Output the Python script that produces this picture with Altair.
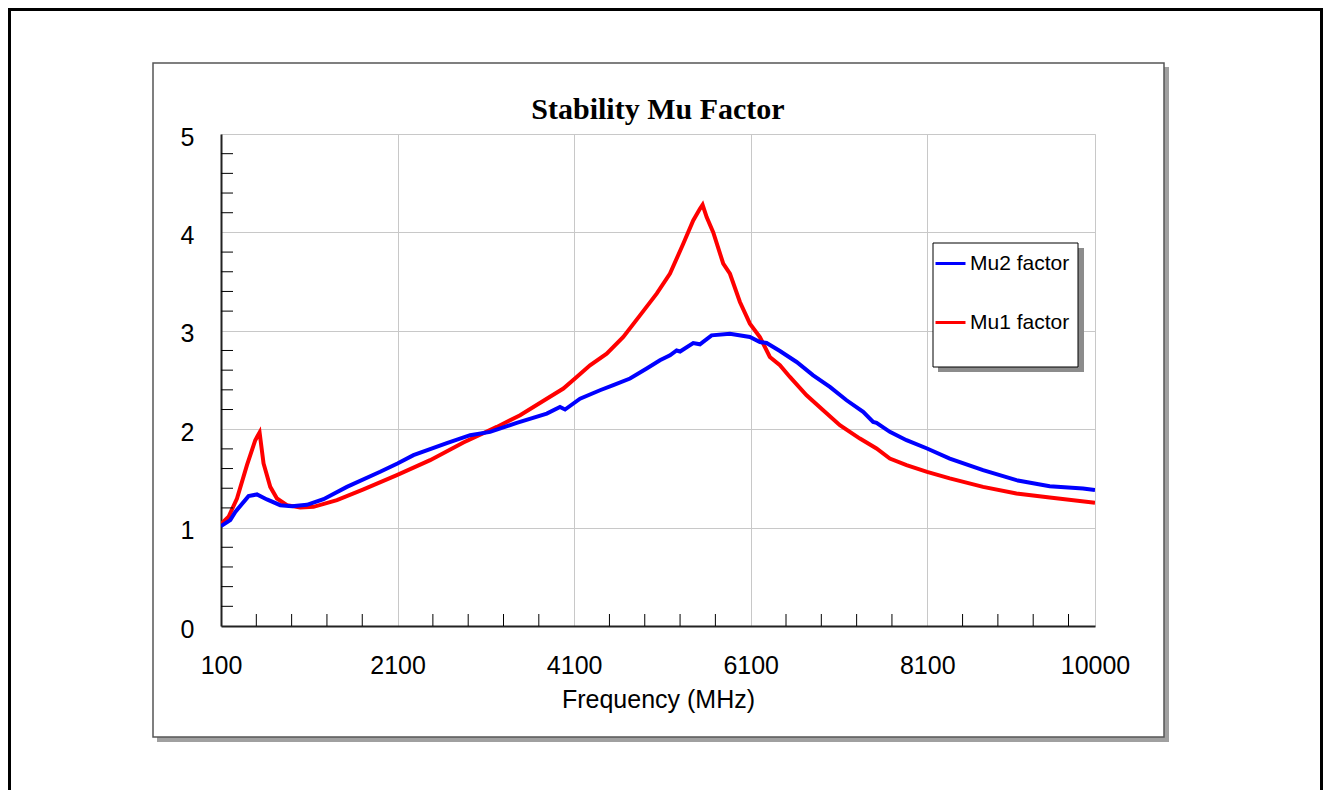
import altair as alt
import pandas as pd

# ---- data ----
mu2_freq = [100, 205, 262, 412, 507, 620, 771, 904, 1073, 1261, 1526, 1903, 2099, 2280,
            2658, 2922, 3148, 3450, 3790, 3940, 3997, 4167, 4393, 4544, 4733, 4922, 5072,
            5186, 5261, 5300, 5449, 5525, 5657, 5865, 6091, 6204, 6280, 6431, 6620, 6808,
            6997, 7186, 7374, 7487, 7525, 7676, 7865, 8098, 8355, 8732, 9110, 9487, 9864, 10000]
mu2_val = [1.015, 1.076, 1.16, 1.32, 1.337, 1.286, 1.228, 1.218, 1.232, 1.289, 1.414, 1.567, 1.652, 1.736,
           1.858, 1.939, 1.973, 2.064, 2.159, 2.226, 2.2, 2.31, 2.396, 2.447, 2.515, 2.616, 2.70,
           2.751, 2.80, 2.79, 2.876, 2.863, 2.954, 2.971, 2.937, 2.886, 2.876, 2.795, 2.683, 2.548,
           2.43, 2.294, 2.176, 2.074, 2.064, 1.973, 1.888, 1.804, 1.702, 1.584, 1.482, 1.421, 1.398, 1.381]

mu1_freq = [100, 186, 281, 394, 488, 537, 582, 658, 734, 847, 998, 1148, 1413, 1714, 2092,
            2469, 2846, 3224, 3488, 3790, 3978, 4129, 4280, 4469, 4657, 4846, 5035, 5186,
            5336, 5449, 5525, 5555, 5601, 5676, 5789, 5865, 5978, 6091, 6204, 6317, 6431,
            6544, 6733, 6921, 7110, 7337, 7525, 7676, 7865, 8098, 8355, 8732, 9110, 9487, 10000]
mu1_val = [1.036, 1.11, 1.296, 1.635, 1.888, 1.966, 1.652, 1.414, 1.296, 1.228, 1.205, 1.211, 1.279, 1.388, 1.533,
           1.685, 1.865, 2.023, 2.142, 2.31, 2.413, 2.531, 2.65, 2.768, 2.937, 3.157, 3.378, 3.581,
           3.885, 4.122, 4.24, 4.28, 4.155, 4.0, 3.682, 3.58, 3.293, 3.073, 2.937, 2.734, 2.65,
           2.531, 2.345, 2.193, 2.041, 1.905, 1.804, 1.702, 1.635, 1.567, 1.5, 1.414, 1.347, 1.307, 1.252]

series_names = ["Mu2 factor", "Mu1 factor"]
series_colors = ["#0000ff", "#ff0000"]
chart_title = "Stability Mu Factor"
x_title = "Frequency (MHz)"

x_tick_labels = [100, 2100, 4100, 6100, 8100, 10000]
y_tick_labels = [0, 1, 2, 3, 4, 5]
x_minor = [500, 900, 1300, 1700, 2500, 2900, 3300, 3700, 4500, 4900, 5300, 5700,
           6500, 6900, 7300, 7700, 8500, 8900, 9300, 9700]
y_minor = [0.2, 0.4, 0.6, 0.8, 1.2, 1.4, 1.6, 1.8, 2.2, 2.4, 2.6, 2.8,
           3.2, 3.4, 3.6, 3.8, 4.2, 4.4, 4.6, 4.8]

mu2 = pd.DataFrame({"f": mu2_freq, "v": mu2_val, "s": series_names[0]})
mu1 = pd.DataFrame({"f": mu1_freq, "v": mu1_val, "s": series_names[1]})

W, H = 874, 492
FONT = "Liberation Sans"

xs = alt.Scale(domain=[100, 10000], nice=False, zero=False)
ys = alt.Scale(domain=[0, 5], nice=False, zero=True)

x_axis = alt.Axis(values=x_tick_labels, title=x_title, grid=True, ticks=False,
                  labelFlush=False, labelOverlap=False, labelPadding=27, labelFontSize=25,
                  labelFont=FONT, labelColor="black", titleFont=FONT, titleFontSize=25,
                  titleFontWeight="normal", titleColor="black", titlePadding=9,
                  domainColor="#222222", domainWidth=2, gridColor="#c8c8c8", gridWidth=1,
                  format="d")
y_axis = alt.Axis(values=y_tick_labels, title=None, grid=True, ticks=False,
                  labelPadding=27, labelFontSize=25, labelFont=FONT, labelColor="black",
                  labelOffset=3,
                  domainColor="#222222", domainWidth=2, gridColor="#c8c8c8", gridWidth=1,
                  labelFlush=False, labelOverlap=False)

legend = alt.Legend(orient="none", legendX=713, legendY=113, title=None, symbolType="stroke",
                    symbolSize=900, symbolStrokeWidth=3, labelFont=FONT, labelFontSize=21,
                    labelColor="black", rowPadding=32, padding=0, labelOffset=3,
                    strokeColor="transparent", fillColor="transparent")
color = alt.Color("s:N", scale=alt.Scale(domain=series_names, range=series_colors), legend=legend)

one = pd.DataFrame({"k": [0]})


def box(x, x2, y, y2, **kw):
    return alt.Chart(one).mark_rect(**kw).encode(
        x=alt.value(x), x2=alt.value(x2), y=alt.value(y), y2=alt.value(y2))


# decorations (pixel offsets relative to plot area)
outer = box(-211.5, 1100.5, -124.5, 766, fill="white", fillOpacity=0, stroke="black", strokeWidth=3)
frame_sh_r = box(943, 948, -67, 608, fill="#a0a0a0")
frame_sh_b = box(-64, 948, 603, 608, fill="#a0a0a0")
frame = box(-68, 943, -71, 603, fill="white", fillOpacity=0, stroke="#555555", strokeWidth=1.5)

leg_sh_r = box(857, 863, 114, 238, fill="#8c8c8c")
leg_sh_b = box(717, 863, 233, 238, fill="#8c8c8c")
leg_box = box(712, 857, 109, 233, fill="white", stroke="black", strokeWidth=1)

title = alt.Chart(one).mark_text(font="Liberation Serif", fontSize=30, fontWeight="bold",
                                 color="black", align="center", baseline="alphabetic").encode(
    x=alt.value(W / 2), y=alt.value(-15), text=alt.value(chart_title))

red = alt.Chart(mu1).mark_line(strokeWidth=4, clip=True).encode(
    x=alt.X("f:Q", scale=xs, axis=x_axis), y=alt.Y("v:Q", scale=ys, axis=y_axis), color=color)
blue = alt.Chart(mu2).mark_line(strokeWidth=4, clip=True).encode(
    x=alt.X("f:Q", scale=xs, axis=x_axis), y=alt.Y("v:Q", scale=ys, axis=y_axis), color=color)

xticks = alt.Chart(pd.DataFrame({"f": x_minor})).mark_rule(color="black", strokeWidth=1).encode(
    x=alt.X("f:Q", scale=xs, axis=x_axis), y=alt.value(H - 12), y2=alt.value(H))
yticks = alt.Chart(pd.DataFrame({"v": y_minor})).mark_rule(color="black", strokeWidth=1).encode(
    y=alt.Y("v:Q", scale=ys, axis=y_axis), x=alt.value(0), x2=alt.value(12))

chart = alt.layer(
    outer, frame_sh_r, frame_sh_b, frame, red, blue, xticks, yticks,
    leg_sh_r, leg_sh_b, leg_box, title
).properties(
    width=W, height=H,
    autosize=alt.AutoSizeParams(type="none"),
    padding={"left": 213, "top": 126, "right": 228, "bottom": 164},
).configure_view(stroke="black", strokeWidth=1).configure(background="white")

chart.save("out.html", embed_options={"renderer": "svg", "actions": False})
